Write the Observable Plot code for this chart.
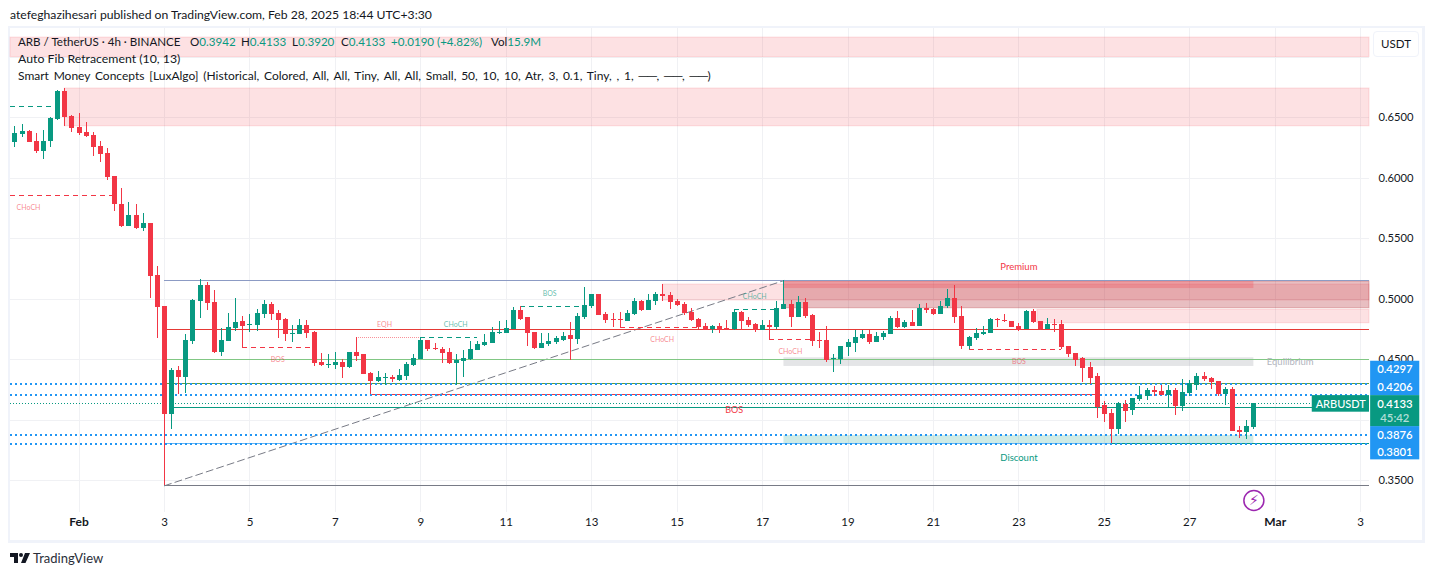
<!DOCTYPE html>
<html><head><meta charset="utf-8">
<script src="https://cdn.jsdelivr.net/npm/d3@7"></script>
<script src="https://cdn.jsdelivr.net/npm/@observablehq/plot@0.6"></script>
<style>
html,body{margin:0;padding:0;background:#fff;font-family:Lato,sans-serif;color:#131722;width:1433px;height:576px;overflow:hidden}
#pub{position:absolute;left:10px;top:6px;font-size:12.2px;line-height:18px;white-space:nowrap}
#panel{position:absolute;left:8px;top:26px;width:1412px;height:512px;border:2px solid #f0f3fa;border-width:2px 3px 3px 2px}
#chart{position:absolute;left:10px;top:28px;width:1413px;height:513px}
#chart svg{display:block;overflow:visible}
.leg{position:absolute;left:18px;font-size:12px;line-height:16px;white-space:nowrap;color:#131722}
.leg b{font-weight:400;color:#089981}
.leg span{position:absolute;top:0}
#usdt{position:absolute;left:1373px;top:31px;width:44px;height:24px;border:1px solid #f0f3fa;border-radius:4px;background:#fff;font-size:11.5px;line-height:24px;text-align:center}
#logo{position:absolute;left:10px;top:553px;width:20px;height:10px;background:#131722;clip-path:path('M0 0H8V10H4V4H0ZM9 2a2 2 0 1 0 4 0a2 2 0 1 0 -4 0ZM15 0H20L15.5 10H11Z')}
#brand{position:absolute;left:33px;top:550px;font-size:13px;line-height:17px;color:#2a2e39}
</style></head><body>
<div id="pub">atefeghazihesari published on TradingView.com, Feb 28, 2025 18:44 UTC+3:30</div>
<div id="panel"></div>
<div id="chart"></div>
<div class="leg" style="top:34px;width:600px;height:16px;font-size:11.6px">ARB / TetherUS · 4h · BINANCE
<span style="left:172px">O<b>0.3942</b></span><span style="left:223px">H<b>0.4133</b></span><span style="left:274px">L<b>0.3920</b></span><span style="left:323px">C<b>0.4133</b></span><span style="left:373px"><b>+0.0190 (+4.82%)</b></span><span style="left:473px">Vol<b>15.9M</b></span></div>
<div class="leg" style="top:51px;font-size:12.3px">Auto Fib Retracement (10, 13)</div>
<div class="leg" style="top:68px;word-spacing:1.7px">Smart Money Concepts [LuxAlgo] (Historical, Colored, All, All, Tiny, All, All, Small, 50, 10, 10, Atr, 3, 0.1, Tiny, , 1, ──, ──, ──)</div>
<div id="usdt">USDT</div>
<div id="logo"></div><div id="brand">TradingView</div>
<script>
// Candle data, 4h bars
const opens = [.6296,.6360,.6384,.6302,.6222,.6304,.6484,.6715,.6508,.6417,
.6376,.6351,.6260,.6203,.6012,.5781,.5599,.5690,.5585,.5624,
.5194,.4938,.4046,.4410,.4354,.4652,.4980,.5112,.4972,.4558,
.4652,.4757,.4815,.4781,.4781,.4872,.4955,.4881,.4831,.4707,
.4707,.4781,.4724,.4476,.4451,.4451,.4476,.4434,.4558,.4542,
.4385,.4319,.4343,.4352,.4327,.4360,.4451,.4500,.4657,.4591,
.4583,.4558,.4467,.4484,.4500,.4575,.4616,.4633,.4715,.4715,
.4748,.4905,.4848,.4724,.4591,.4624,.4641,.4657,.4699,.4666,
.4848,.4938,.5038,.4872,.4831,.4831,.4815,.4872,.4980,.4905,
.4980,.5038,.5029,.4980,.4955,.4889,.4831,.4773,.4748,.4773,
.4757,.4748,.4889,.4823,.4790,.4740,.4781,.4765,.4914,.4955,
.4848,.4972,.4864,.4657,.4657,.4500,.4500,.4600,.4633,.4674,
.4707,.4641,.4682,.4707,.4839,.4765,.4806,.4773,.4922,.4914,
.4872,.4938,.5005,.4856,.4608,.4674,.4707,.4715,.4831,.4823,
.4815,.4773,.4748,.4897,.4815,.4748,.4790,.4790,.4608,.4550,
.4509,.4434,.4360,.4117,.4051,.3921,.4128,.4079,.4167,.4194,
.4244,.4236,.4203,.4244,.4112,.4219,.4285,.4360,.4343,.4318,
.4211,.4252,.3913,.3897,.3942];
const closes = [.6365,.6384,.6296,.6222,.6302,.6495,.6715,.6503,.6412,.6368,
.6343,.6255,.6197,.6007,.5778,.5599,.5690,.5585,.5624,.5186,
.4933,.4046,.4410,.4354,.4657,.4988,.5112,.4966,.4558,.4657,
.4765,.4806,.4773,.4790,.4881,.4955,.4872,.4823,.4707,.4715,
.4781,.4715,.4467,.4451,.4459,.4476,.4434,.4558,.4525,.4377,
.4319,.4352,.4352,.4335,.4368,.4459,.4509,.4657,.4583,.4580,
.4550,.4467,.4492,.4509,.4583,.4624,.4641,.4724,.4724,.4757,
.4905,.4831,.4715,.4591,.4633,.4649,.4674,.4691,.4666,.4856,
.4947,.5038,.4864,.4823,.4823,.4823,.4881,.4980,.4905,.4988,
.5038,.5021,.4972,.4947,.4881,.4823,.4765,.4740,.4773,.4740,
.4740,.4889,.4815,.4781,.4740,.4781,.4765,.4922,.4955,.4848,
.4972,.4856,.4649,.4649,.4492,.4509,.4608,.4641,.4682,.4707,
.4641,.4691,.4715,.4839,.4765,.4806,.4773,.4922,.4905,.4872,
.4938,.5005,.4848,.4608,.4682,.4715,.4724,.4831,.4823,.4815,
.4765,.4740,.4897,.4806,.4748,.4790,.4781,.4600,.4542,.4492,
.4426,.4343,.4101,.4046,.3921,.4134,.4070,.4178,.4203,.4244,
.4227,.4203,.4244,.4112,.4227,.4302,.4360,.4335,.4310,.4211,
.4252,.3905,.3897,.3946,.4133];
const highs = [.6426,.6442,.6393,.6365,.6393,.6503,.6723,.6740,.6517,.6530,
.6459,.6376,.6302,.6241,.6012,.5911,.5798,.5781,.5704,.5624,
.5269,.4938,.4426,.4443,.4704,.4994,.5162,.5134,.5071,.4757,
.4881,.5005,.4856,.4872,.4914,.4988,.4972,.4905,.4839,.4781,
.4831,.4823,.4732,.4550,.4542,.4558,.4500,.4558,.4682,.4542,
.4393,.4401,.4385,.4368,.4418,.4476,.4542,.4682,.4657,.4633,
.4600,.4591,.4542,.4575,.4649,.4649,.4707,.4765,.4815,.4823,
.4930,.4938,.4848,.4724,.4715,.4715,.4691,.4724,.4806,.4881,
.5096,.5038,.5038,.4889,.4881,.4889,.4905,.5005,.4988,.5038,
.5054,.5120,.5054,.4996,.4972,.4922,.4839,.4798,.4781,.4798,
.4823,.4914,.4897,.4848,.4798,.4823,.4823,.4980,.5153,.4988,
.5021,.5005,.4872,.4724,.4773,.4542,.4608,.4666,.4740,.4740,
.4740,.4724,.4732,.4856,.4897,.4823,.4905,.4955,.4963,.4922,
.4980,.5079,.5112,.4938,.4691,.4757,.4773,.4839,.4839,.4872,
.4815,.4798,.4905,.4914,.4815,.4839,.4831,.4823,.4608,.4550,
.4517,.4476,.4382,.4153,.4084,.4145,.4161,.4178,.4277,.4260,
.4277,.4285,.4285,.4260,.4335,.4326,.4384,.4393,.4351,.4318,
.4269,.4269,.3946,.3996,.4133];
const lows = [.6255,.6338,.6296,.6200,.6156,.6255,.6475,.6428,.6376,.6351,
.6338,.6180,.6131,.5979,.5726,.5588,.5599,.5572,.5561,.5007,
.4671,.3456,.3922,.4211,.4217,.4624,.4842,.4905,.4547,.4525,
.4652,.4732,.4597,.4724,.4732,.4839,.4823,.4674,.4649,.4641,
.4707,.4674,.4443,.4443,.4426,.4418,.4343,.4426,.4484,.4377,
.4211,.4310,.4286,.4310,.4319,.4327,.4443,.4500,.4567,.4575,
.4467,.4459,.4286,.4354,.4492,.4575,.4608,.4633,.4707,.4715,
.4748,.4823,.4608,.4583,.4591,.4608,.4624,.4649,.4492,.4624,
.4831,.4922,.4864,.4798,.4765,.4757,.4815,.4864,.4897,.4905,
.4947,.4980,.4914,.4938,.4864,.4815,.4748,.4740,.4715,.4715,
.4740,.4740,.4740,.4765,.4724,.4740,.4666,.4748,.4914,.4765,
.4848,.4839,.4608,.4591,.4476,.4393,.4459,.4525,.4558,.4666,
.4624,.4641,.4657,.4707,.4757,.4757,.4773,.4773,.4881,.4864,
.4872,.4922,.4798,.4583,.4580,.4657,.4699,.4715,.4765,.4806,
.4765,.4732,.4748,.4798,.4740,.4748,.4724,.4583,.4517,.4443,
.4310,.4294,.4012,.3979,.3803,.3880,.3979,.4037,.4153,.4161,
.4194,.4203,.4103,.4037,.4070,.4194,.4244,.4318,.4252,.4194,
.4120,.3905,.3847,.3839,.3920];

const firstBar = Date.UTC(2025,0,30,12);
const barTime = i => new Date(firstBar + i*4*3600e3);
const leftBar = -0.632, rightBar = 190.24;

const priceTicks = [0.35,0.45,0.50,0.55,0.60,0.65];
const priceGrid  = [0.35,0.40,0.45,0.50,0.55,0.60,0.65,0.70];
const dayTicks   = [[3,"3"],[5,"5"],[7,"7"],[9,"9"],[11,"11"],[13,"13"],[15,"15"],[17,"17"],[19,"19"],[21,"21"],[23,"23"],[25,"25"],[27,"27"]];
const monthTicks = [[Date.UTC(2025,1,1),"Feb"],[Date.UTC(2025,2,1),"Mar"]];
const marchDay   = [[Date.UTC(2025,2,3),"3"]];
const gridDates  = [...dayTicks.map(d=>Date.UTC(2025,1,d[0])),...monthTicks.map(d=>d[0]),marchDay[0][0]].map(d=>new Date(d));

// zones: [from bar, to bar, top price, bottom price]
const pinkZones = [[leftBar,rightBar,.7161,.7000],[7,rightBar,.6740,.6428],[91,rightBar,.5120,.4988],[143.6,rightBar,.4911,.4800]];
const swingZone = [[108,rightBar,.5145,.4924]];
const premiumZone = [[108,174,.5153,.5087]];
const equilZone = [[108,174,.4515,.4443]];
const discountZone = [[108,174,.3872,.3806]];

// levels: [price, from bar, to bar]
const fibBlue = [[.5153,21,rightBar]], fibRed = [[.4746,21,rightBar]], fibGreen=[[.4498,21,rightBar]],
      fibOlive=[[.4299,21,rightBar]], fibTeal=[[.4101,22,rightBar]], fibLightBlue=[[.3806,21,154]],
      fibGrey=[[.3457,21,rightBar]], lowTeal=[[.3803,154,rightBar]], bosRed=[[.4208,50,152]];
const greenDash = [[.6588,leftBar,6],[.4680,57,65],[.4936,71,80],[.4911,101,107]];
const redDash   = [[.5853,leftBar,14],[.4597,32,42],[.4762,85,96],[.4663,106,112],[.4580,134,147]];
const pinkDot   = [[.4680,48,57]];
const blueLevels = [.4297,.4206,.3876,.3801];
const lastPrice = .4133;
const fibTrend = [[21,.3457],[108,.5153]];

const redLabels   = [["CHoCH",1.9,.5756],["BOS",36.9,.4500],["EQH",51.9,.4789],["CHoCH",90.9,.4665],["CHoCH",108.9,.4566],["BOS",141,.4484]];
const greenLabels = [["CHoCH",61.9,.4789],["BOS",75.1,.5045],["CHoCH",103.9,.5021]];
const zoneLabels  = [["Premium",141,.5269,"#f23645"],["Equilibrium",179.1,.4484,"#b2b5be"],["Discount",141,.3690,"#089981"]];
const bigBos = [["BOS",101,.4079]];

const blueTags = [[.4486,.4202],[.3946,.3671]];
const blueTagText = [["0.4297",.4417],["0.4206",.4269],["0.3876",.3872],["0.3801",.3731]];
const green = "#089981", red = "#f23645";
const bars = opens.map((o,i)=>({t:barTime(i),o,c:closes[i],h:highs[i],l:lows[i],col:closes[i]>=o?green:red}));

const hLine = (rows,opts) => Plot.ruleY(rows,{y:d=>d[0],x1:d=>barTime(d[1]),x2:d=>barTime(d[2]),shapeRendering:"crispEdges",...opts});
const zone = (rows,opts) => Plot.rect(rows,{x1:d=>barTime(d[0]),x2:d=>barTime(d[1]),y1:d=>d[2],y2:d=>d[3],...opts});
const label = (rows,opts) => Plot.text(rows,{text:d=>d[0],x:d=>barTime(d[1]),y:d=>d[2],...opts});

const chart = Plot.plot({
  width:1413,height:513,marginLeft:0,marginRight:54,marginTop:0,marginBottom:29,
  style:{background:"transparent",fontFamily:"Lato,sans-serif",overflow:"visible"},
  x:{type:"utc",domain:[barTime(leftBar),barTime(rightBar)],axis:null},
  y:{domain:[.3236,.7236],axis:null},
  marks:[
    Plot.ruleX(gridDates,{x:d=>d,stroke:"#f0f1f4",shapeRendering:"crispEdges"}),
    Plot.ruleY(priceGrid,{y:d=>d,stroke:"#f0f1f4",x1:()=>barTime(leftBar),x2:()=>barTime(rightBar),shapeRendering:"crispEdges"}),
    zone(pinkZones,{fill:red,fillOpacity:.15,stroke:red,strokeOpacity:.15}),
    zone(swingZone,{fill:"#b22833",fillOpacity:.3,stroke:"#b22833",strokeOpacity:.3}),
    zone(premiumZone,{fill:red,fillOpacity:.25}),
    zone(equilZone,{fill:"#787b86",fillOpacity:.2}),
    zone(discountZone,{fill:green,fillOpacity:.2}),
    Plot.line(fibTrend,{x:d=>barTime(d[0]),y:d=>d[1],stroke:"#787b86",strokeWidth:1,strokeDasharray:"7,4"}),
    hLine(fibBlue,{stroke:"#8c9bc4",strokeWidth:1}),
    hLine(fibRed,{stroke:"#e53935",strokeWidth:1}),
    hLine(fibGreen,{stroke:"#81c784",strokeWidth:1}),
    hLine(fibOlive,{stroke:"#5f9e3c",strokeWidth:1}),
    hLine(fibTeal,{stroke:green,strokeWidth:1}),
    hLine(fibLightBlue,{stroke:"#64b5f6",strokeWidth:1}),
    hLine(fibGrey,{stroke:"#787b86",strokeWidth:1}),
    hLine(lowTeal,{stroke:green,strokeWidth:1}),
    hLine(bosRed,{stroke:red,strokeWidth:1}),
    hLine(greenDash,{stroke:green,strokeWidth:1,strokeDasharray:"5,4"}),
    hLine(redDash,{stroke:red,strokeWidth:1,strokeDasharray:"5,4"}),
    hLine(pinkDot,{stroke:red,strokeOpacity:.55,strokeWidth:1,strokeDasharray:"1,1"}),
    Plot.ruleY(blueLevels,{y:d=>d,x1:()=>barTime(leftBar),x2:()=>barTime(rightBar),stroke:"#2196f3",strokeWidth:2,strokeDasharray:"2,3",shapeRendering:"crispEdges"}),
    Plot.ruleY([lastPrice],{y:d=>d,x1:()=>barTime(leftBar),x2:()=>barTime(rightBar),stroke:green,strokeWidth:1,strokeDasharray:"1,2",shapeRendering:"crispEdges"}),
    Plot.ruleX(bars,{x:"t",y1:"l",y2:"h",stroke:"col",strokeWidth:1,shapeRendering:"crispEdges"}),
    Plot.ruleX(bars,{x:"t",y1:"o",y2:"c",stroke:"col",strokeWidth:5,shapeRendering:"crispEdges"}),
    label(redLabels,{fill:red,fillOpacity:.6,fontSize:7}),
    label(greenLabels,{fill:green,fillOpacity:.65,fontSize:7}),
    label(zoneLabels,{fill:d=>d[3],fontSize:9.5}),
    label(bigBos,{fill:red,fontSize:9}),
    Plot.dot([[174,.3335]],{x:d=>barTime(d[0]),y:d=>d[1],r:10,fill:"#fff",stroke:"#9c27b0",strokeWidth:1.5}),
    Plot.text([[174,.3335]],{x:d=>barTime(d[0]),y:d=>d[1],text:()=>"\u26A1\uFE0E",fill:"#9c27b0",fontSize:14,fontFamily:"DejaVu Sans"}),
    Plot.text(priceTicks,{x:()=>barTime(191.5),y:d=>d,text:d=>d.toFixed(4),textAnchor:"start",fill:"#131722",fontSize:11.2}),
    Plot.rect(blueTags,{x1:()=>barTime(190.4),x2:()=>barTime(197.3),y1:d=>d[0],y2:d=>d[1],fill:"#2196f3"}),
    Plot.rect([[.4202,.3946]],{x1:()=>barTime(190.4),x2:()=>barTime(197.3),y1:d=>d[0],y2:d=>d[1],fill:green}),
    Plot.rect([[.4202,.4065]],{x1:()=>barTime(182.2),x2:()=>barTime(190.24),y1:d=>d[0],y2:d=>d[1],fill:green}),
    Plot.text(blueTagText,{x:()=>barTime(193.8),y:d=>d[1],text:d=>d[0],fill:"#fff",fontSize:11.3,fontWeight:600}),
    Plot.text([["0.4133",.4132]],{x:()=>barTime(193.8),y:d=>d[1],text:d=>d[0],fill:"#fff",fontSize:11.3,fontWeight:600}),
    Plot.text([["45:42",.4013]],{x:()=>barTime(193.8),y:d=>d[1],text:d=>d[0],fill:"#fff",fillOpacity:.7,fontSize:11.3,fontWeight:600}),
    Plot.text([["ARBUSDT",.4132]],{x:()=>barTime(186.2),y:d=>d[1],text:d=>d[0],fill:"#fff",fontSize:11,fontWeight:500}),
    Plot.text(dayTicks,{x:d=>new Date(Date.UTC(2025,1,d[0])),text:d=>d[1],frameAnchor:"bottom",dy:13,fill:"#131722",fontSize:11.5}),
    Plot.text(marchDay,{x:d=>new Date(d[0]),text:d=>d[1],frameAnchor:"bottom",dy:13,fill:"#131722",fontSize:11.5}),
    Plot.text(monthTicks,{x:d=>new Date(d[0]),text:d=>d[1],frameAnchor:"bottom",dy:13,fill:"#131722",fontSize:12,fontWeight:700})
  ]
});
document.getElementById("chart").append(chart);
</script>
</body></html>
